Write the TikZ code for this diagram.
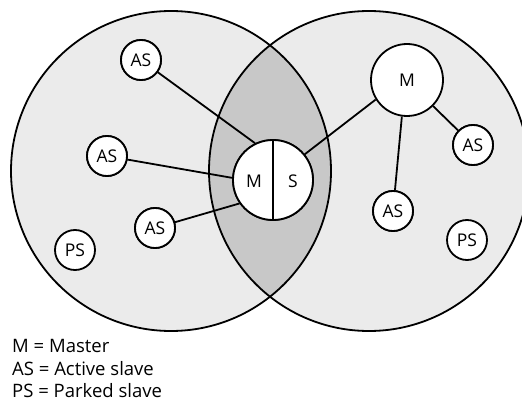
\documentclass[tikz,border=0pt]{standalone}
\usepackage{fontspec}
\setmainfont{Open Sans}
\begin{document}
\begin{tikzpicture}[x=1pt,y=-1pt,
  lw/.style={line width=1.8pt},
  lbl/.style={font=\fontsize{17.5}{20}\selectfont},
  dev/.style={circle,draw,lw,fill=white,minimum size=40pt,inner sep=0pt,lbl},
  link/.style={lw},
  legend/.style={anchor=base west,inner sep=0pt,font=\fontsize{18.5}{22}\selectfont}]
\useasboundingbox (0,0) rectangle (522,401);
\fill[gray!16] (171,171) circle (160);
\fill[gray!16] (369,171) circle (160);
\begin{scope}
  \clip (171,171) circle (160);
  \fill[gray!43] (369,171) circle (160);
\end{scope}
\draw[lw] (171,171) circle (160);
\draw[lw] (369,171) circle (160);
% nodes
\node[dev] (as1) at (141,60) {};
\node[dev] (as2) at (107,156) {};
\node[dev] (as3) at (155,228) {};
\node[dev] (ps1) at (75,250) {PS};
\node[dev,minimum size=72pt] (mr) at (407,80) {};
\node[lbl] (mrl) at (407,80) {M};
\node[dev] (as4) at (473,145) {};
\node[dev] (as5) at (393,211) {};
\node[dev] (ps2) at (467,240) {PS};
\node[dev,minimum size=80pt] (ms) at (273,180) {};
% links
\draw[link] (ms.116) -- (as1);
\draw[link] (ms.177) -- (as2);
\draw[link] (ms.215) -- (as3);
\draw[link] (ms.39) -- (mr.212);
\draw[link] (mr.262) -- (as5);
\draw[link] (mr.315) -- (as4);
% nodes on top with labels
\node[dev] (as1t) at (as1) {AS};
\node[dev] (as2t) at (as2) {AS};
\node[dev] (as3t) at (as3) {AS};
\node[dev] (as4t) at (as4) {AS};
\node[dev] (as5t) at (as5) {AS};
\node[dev,minimum size=80pt] (ms2) at (273,180) {};
\draw[lw] (ms2.north) -- (ms2.south);
\node[lbl] (msm) at (254,181) {M};
\node[lbl] (mss) at (293,181) {S};
% legend
\node[legend] (l1) at (12,352) {M = Master};
\node[legend] (l2) at (12,375) {AS = Active slave};
\node[legend] (l3) at (12,397) {PS = Parked slave};
\end{tikzpicture}
\end{document}
